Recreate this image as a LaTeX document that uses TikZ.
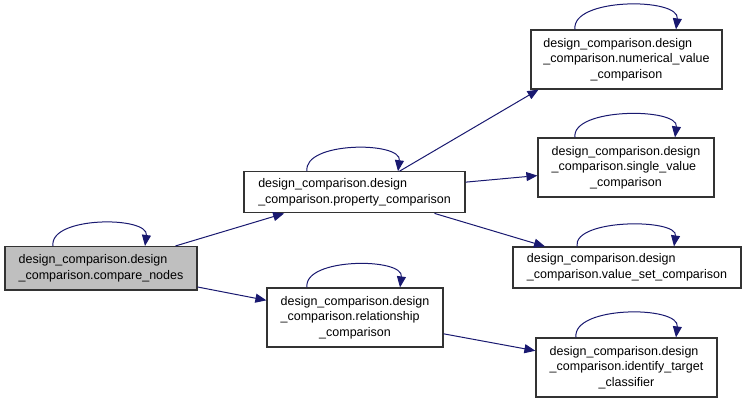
\documentclass[tikz,border=0pt]{standalone}
\usepackage{fontspec}
\setmainfont{Liberation Sans}
\usepackage{xcolor}
\usepackage{tikz}
\usetikzlibrary{positioning,arrows.meta}
\definecolor{edgeblue}{HTML}{191970}
\definecolor{boxgrey}{HTML}{BFBFBF}
\definecolor{boxline}{HTML}{333333}
% label: lines left aligned, last line centred
\newcommand{\fnlbl}[2]{\begin{tabular}{@{}l@{}}#1\\\multicolumn{1}{@{}c@{}}{#2}\end{tabular}}
\tikzset{
  fn/.style={rectangle, draw=boxline, fill=white, line width=1.2pt,
             inner sep=0pt, font=\fontsize{12.5}{15.5}\selectfont},
  fnhl/.style={fn, fill=boxgrey},
  ar/.style={-{Triangle[length=11pt,width=9pt]}, line width=1pt, draw=edgeblue},
}

\begin{document}
\begin{tikzpicture}[x=1pt, y=-1pt]
  \useasboundingbox (0,0) rectangle (746,403);

  \node[fnhl, minimum width=192pt, minimum height=43.5pt] (cmp) at (101,268.3)
    {\fnlbl{design\_comparison.design}{\_comparison.compare\_nodes}};

  \node[fn, minimum width=221pt, minimum height=41pt] (prop) at (354.5,192.3)
    {\fnlbl{design\_comparison.design}{\_comparison.property\_comparison}};
  \node[fn, minimum width=176pt, minimum height=59pt] (rel) at (355,317.5)
    {\fnlbl{design\_comparison.design\\\_comparison.relationship}{\_comparison}};

  \node[fn, minimum width=191pt, minimum height=59pt] (num) at (626.5,59.5)
    {\fnlbl{design\_comparison.design\\\_comparison.numerical\_value}{\_comparison}};
  \node[fn, minimum width=176pt, minimum height=59pt] (single) at (626,167.5)
    {\fnlbl{design\_comparison.design\\\_comparison.single\_value}{\_comparison}};
  \node[fn, minimum width=228pt, minimum height=41pt] (vset) at (627,267.5)
    {\fnlbl{design\_comparison.design}{\_comparison.value\_set\_comparison}};
  \node[fn, minimum width=181pt, minimum height=59pt] (ident) at (626.5,367.5)
    {\fnlbl{design\_comparison.design\\\_comparison.identify\_target}{\_classifier}};

  % self calls
  \draw[ar] ([xshift=-48]cmp.north) .. controls +(-4,-30) and +(4,-30) .. ([xshift=44]cmp.north);
  \draw[ar] ([xshift=-47.5]prop.north) .. controls +(-4,-30) and +(4,-30) .. ([xshift=43.5]prop.north);
  \draw[ar] ([xshift=-48]rel.north) .. controls +(-4,-30) and +(4,-30) .. ([xshift=45]rel.north);
  \draw[ar] ([xshift=-51.5]num.north) .. controls +(-4,-32) and +(4,-32) .. ([xshift=49.5]num.north);
  \draw[ar] ([xshift=-51]single.north) .. controls +(-4,-30) and +(4,-30) .. ([xshift=49]single.north);
  \draw[ar] ([xshift=-50]vset.north) .. controls +(-4,-28) and +(4,-28) .. ([xshift=47]vset.north);
  \draw[ar] ([xshift=-50.5]ident.north) .. controls +(-4,-32) and +(4,-32) .. ([xshift=49.5]ident.north);

  \draw[ar] (cmp) -- (prop);
  \draw[ar] (cmp) -- (rel);
  \draw[ar] ([xshift=45]prop.north) -- ([xshift=-88]num.south);
  \draw[ar] (prop) -- (single);
  \draw[ar] ([xshift=80]prop.south) -- ([xshift=-82]vset.north);
  \draw[ar] (rel) -- (ident);
\end{tikzpicture}
\end{document}
